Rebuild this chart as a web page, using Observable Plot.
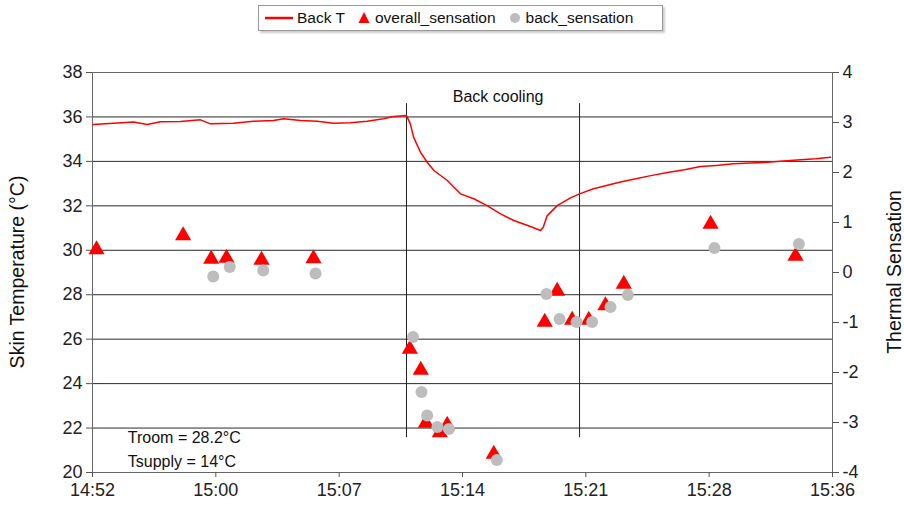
<!DOCTYPE html>
<html>
<head>
<meta charset="utf-8">
<script src="https://cdn.jsdelivr.net/npm/d3@7"></script>
<script src="https://cdn.jsdelivr.net/npm/@observablehq/plot@0.6"></script>
<style>
  html, body { margin: 0; padding: 0; background: #fff; }
  #wrap { position: relative; width: 904px; height: 516px; font-family: "Liberation Sans", Arial, sans-serif; }
  #legend { position: absolute; left: 258px; top: 5px; width: 403px; height: 24px; border: 1px solid #999;
            box-shadow: 2px 2px 2px #ccc; background: #fff; display: flex; align-items: center; font-size: 15.5px; color: #111; }
  #legend .it { display: flex; align-items: center; margin-left: 4px; }
  #legend svg { display: block; }
</style>
</head>
<body>
<div id="wrap">
  <div id="legend"></div>
</div>
<script>
// ---- data (times in minutes after 14:52) ----
const startClock = "14:52";
const xTickLabels = ["14:52", "15:00", "15:07", "15:14", "15:21", "15:28", "15:36"];
const tempTicks = [20, 22, 24, 26, 28, 30, 32, 34, 36, 38];
const sensTicks = [-4, -3, -2, -1, 0, 1, 2, 3, 4];

// Back T skin temperature trace (°C)
const backTMin = [0.04, 1.25, 2.44, 3.25, 4.04, 5.23, 6.42, 7.02, 8.38, 9.57, 10.76, 11.36, 12.37,
  13.36, 14.33, 15.34, 16.33, 17.3, 17.9, 18.67, 18.9, 19.09, 19.5, 19.9, 20.3, 21.1, 21.88,
  22.67, 23.46, 24.26, 25.05, 26.04, 26.64, 26.8, 27.04, 27.63, 28.42, 28.96, 29.79, 31.39,
  32.17, 33.2, 34.19, 35.2, 36.15, 37.1, 38.11, 39.1, 40.14, 41.1, 42.1, 43.0, 43.88];
const backT = [35.66, 35.72, 35.77, 35.66, 35.78, 35.79, 35.87, 35.69, 35.72, 35.81, 35.84, 35.92, 35.84,
  35.81, 35.72, 35.74, 35.81, 35.92, 36.02, 36.06, 35.69, 35.09, 34.41, 33.96, 33.59, 33.14, 32.54,
  32.32, 32.01, 31.64, 31.34, 31.07, 30.89, 31.04, 31.56, 32.01, 32.36, 32.54, 32.77, 33.07,
  33.2, 33.36, 33.5, 33.62, 33.77, 33.82, 33.89, 33.93, 33.96, 34.02, 34.07, 34.12, 34.19];

// overall_sensation (red triangles)
const overallMin = [0.24, 5.39, 7.06, 7.97, 10.05, 13.14, 18.87, 19.52, 19.82, 20.65, 21.09, 23.86,
  26.89, 27.63, 28.52, 29.51, 30.5, 31.59, 36.75, 41.8];
const overallSens = [0.46, 0.74, 0.27, 0.29, 0.25, 0.28, -1.53, -1.95, -3.01, -3.2, -3.05, -3.63,
  -0.99, -0.37, -0.95, -0.95, -0.66, -0.23, 0.97, 0.33];

// back_sensation (grey circles)
const backMin = [7.18, 8.16, 10.15, 13.26, 19.06, 19.56, 19.9, 20.51, 21.19, 24.04, 26.99, 27.77,
  28.78, 29.71, 30.8, 31.83, 36.98, 42.0];
const backSens = [-0.08, 0.11, 0.04, -0.02, -1.29, -2.39, -2.86, -3.09, -3.13, -3.75, -0.43, -0.93,
  -0.99, -0.99, -0.69, -0.45, 0.49, 0.57];

// back cooling period markers and annotations
const coolingMin = [18.67, 28.96];
const coolingSpan = [21.57, 36.6];
const coolingLabel = "Back cooling";
const noteLines = ["Troom = 28.2°C", "Tsupply = 14°C"];
const noteMin = 2.1;
const noteTemp = [21.57, 20.5];

// ---- build ----
const xEnd = 44;
const xTickPos = xTickLabels.map((_, i) => i * xEnd / (xTickLabels.length - 1));
const labelFor = new Map(xTickPos.map((p, i) => [p.toFixed(4), xTickLabels[i]]));
// map sensation (-4..4) onto temperature scale (20..38)
const s2t = s => 20 + (s + 4) * (18 / 8);
const t2s = t => (t - 20) / (18 / 8) - 4;

const lineData = backTMin.map((m, i) => ({m, v: backT[i]}));
const triData = overallMin.map((m, i) => ({m, v: s2t(overallSens[i])}));
const dotData = backMin.map((m, i) => ({m, v: s2t(backSens[i])}));
const gridTemps = tempTicks.filter(t => t > 20 && t < 38);

const font = "'Liberation Sans', Arial, sans-serif";
const chart = Plot.plot({
  width: 904,
  height: 516,
  marginTop: 72,
  marginBottom: 44,
  marginLeft: 92,
  marginRight: 72,
  style: {fontFamily: font, fontSize: "18px", color: "#222", background: "#fff"},
  x: {domain: [0, xEnd]},
  y: {domain: [20, 38]},
  marks: [
    Plot.ruleY(gridTemps, {stroke: "#2a2a2a", strokeWidth: 1}),
    Plot.frame({stroke: "#666"}),
    Plot.ruleX(coolingMin, {y1: coolingSpan[0], y2: coolingSpan[1], stroke: "#222", strokeWidth: 1}),
    Plot.axisX({ticks: xTickPos, tickFormat: d => labelFor.get(d.toFixed(4)), tickSize: 5, tickPadding: 6,
      label: null, fontSize: 18, stroke: "#555"}),
    Plot.axisY({ticks: tempTicks, tickFormat: d => String(d), tickSize: 6, tickPadding: 4,
      label: null, fontSize: 18, stroke: "#555"}),
    Plot.axisY({anchor: "right", ticks: sensTicks.map(s2t), tickFormat: d => String(Math.round(t2s(d))),
      tickSize: 6, tickPadding: 4, label: null, fontSize: 18, stroke: "#555"}),
    Plot.line(lineData, {x: "m", y: "v", stroke: "#ff0000", strokeWidth: 1.5}),
    Plot.dot(triData, {x: "m", y: "v", symbol: "triangle", fill: "#ff0000", r: 6}),
    Plot.dot(dotData, {x: "m", y: "v", fill: "#bdbdbd", r: 6}),
    Plot.text([coolingLabel], {x: (coolingMin[0] + coolingMin[1]) / 2 + 0.3, y: 36.9, fontSize: 16, fill: "#111"}),
    Plot.text(noteLines, {x: noteMin, y: (d, i) => noteTemp[i], textAnchor: "start", fontSize: 16, fill: "#111"})
  ]
});
document.getElementById("wrap").appendChild(chart);
chart.style.position = "absolute";
chart.style.left = "0";
chart.style.top = "0";

// axis titles (rotated, outside the frame)
const ns = "http://www.w3.org/2000/svg";
[["Skin Temperature (°C)", 17], ["Thermal Sensation", 894]].forEach(([txt, x]) => {
  const t = document.createElementNS(ns, "text");
  t.textContent = txt;
  t.setAttribute("transform", `translate(${x},272) rotate(-90)`);
  t.setAttribute("text-anchor", "middle");
  t.setAttribute("dominant-baseline", "central");
  t.setAttribute("font-size", "19.5");
  t.setAttribute("font-family", font);
  t.setAttribute("fill", "#111");
  chart.appendChild(t);
});

// legend
const legend = document.getElementById("legend");
const items = [
  {type: "line", label: "Back T"},
  {type: "tri", label: "overall_sensation"},
  {type: "dot", label: "back_sensation"}
];
items.forEach((it, i) => {
  const d = document.createElement("div");
  d.className = "it";
  if (i > 0) d.style.marginLeft = "12px";
  const s = document.createElementNS(ns, "svg");
  s.setAttribute("width", it.type === "line" ? 30 : 14);
  s.setAttribute("height", 16);
  if (it.type === "line") {
    s.innerHTML = '<line x1="2" x2="30" y1="8" y2="8" stroke="#ff0000" stroke-width="2.5"/>';
  } else if (it.type === "tri") {
    s.innerHTML = '<path d="M7,2 L12.5,13 L1.5,13 Z" fill="#ff0000"/>';
  } else {
    s.innerHTML = '<circle cx="7" cy="8" r="5" fill="#bdbdbd"/>';
  }
  d.appendChild(s);
  const t = document.createElement("span");
  t.textContent = it.label;
  t.style.marginLeft = "4px";
  d.appendChild(t);
  legend.appendChild(d);
});
legend.style.zIndex = 2;
</script>
</body>
</html>
